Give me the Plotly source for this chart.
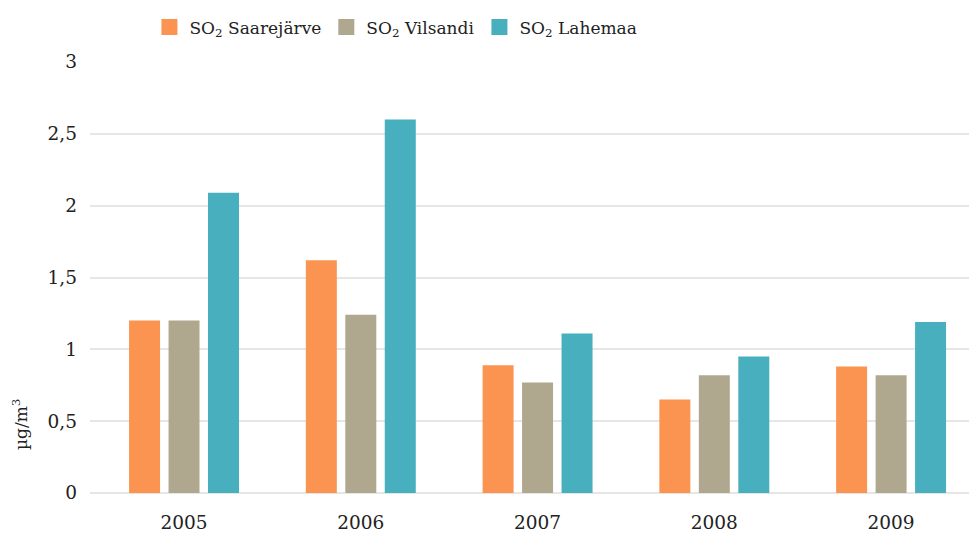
import plotly.graph_objects as go

years = ["2005", "2006", "2007", "2008", "2009"]
saarejarve = [1.20, 1.62, 0.89, 0.65, 0.88]
vilsandi = [1.20, 1.24, 0.77, 0.82, 0.82]
lahemaa = [2.09, 2.60, 1.11, 0.95, 1.19]
series_names = ["SO<sub>2</sub> Saarejärve", "SO<sub>2</sub> Vilsandi", "SO<sub>2</sub> Lahemaa"]
colors = ["#FA9450", "#B0A88E", "#47AFBD"]
y_tickvals = [0, 0.5, 1, 1.5, 2, 2.5, 3]
y_ticktext = ["0", "0,5", "1", "1,5", "2", "2,5", "3"]
y_title = "µg/m<sup>3</sup>"

FONT = "DejaVu Serif"
fig = go.Figure()
for name, vals, col in zip(series_names, [saarejarve, vilsandi, lahemaa], colors):
    fig.add_trace(go.Bar(x=years, y=vals, name=name, marker=dict(color=col, line=dict(width=0)),
                         showlegend=False))
for name, col in zip(series_names, colors):
    fig.add_trace(go.Scatter(x=[None], y=[None], mode="markers", name=name,
                             marker=dict(symbol="square", size=21, color=col)))

fig.update_layout(
    width=969, height=526,
    margin=dict(l=82, r=0, t=53.5, b=40.5, autoexpand=False),
    paper_bgcolor="white", plot_bgcolor="white",
    font=dict(family=FONT, size=17, color="#222222"),
    barmode="group", bargap=0.33, bargroupgap=0.215,
    showlegend=True,
    legend=dict(orientation="h", x=0.067, xanchor="left", y=1.08, yanchor="middle",
                font=dict(family=FONT, size=17, color="#222222"),
                itemwidth=30, tracegroupgap=0, bgcolor="rgba(0,0,0,0)"),
    xaxis=dict(type="category", range=[-0.532, 4.486], showgrid=False, automargin=False,
               showline=False, zeroline=False, ticks="", ticklabelstandoff=16,
               tickfont=dict(family=FONT, size=18.5)),
    yaxis=dict(range=[0, 3], tickvals=y_tickvals, ticktext=y_ticktext, automargin=False,
               showgrid=True, gridcolor="#E6E6E6", gridwidth=2,
               zeroline=True, zerolinecolor="#E6E6E6", zerolinewidth=2,
               showline=False, ticks="", ticklabelstandoff=12,
               tickfont=dict(family=FONT, size=18.5)),
)
fig.add_annotation(text=y_title, xref="paper", yref="paper", x=-0.079, y=0.16,
                   xanchor="center", yanchor="middle", textangle=-90, showarrow=False,
                   font=dict(family=FONT, size=17, color="#222222"))
fig.write_html("out.html")
